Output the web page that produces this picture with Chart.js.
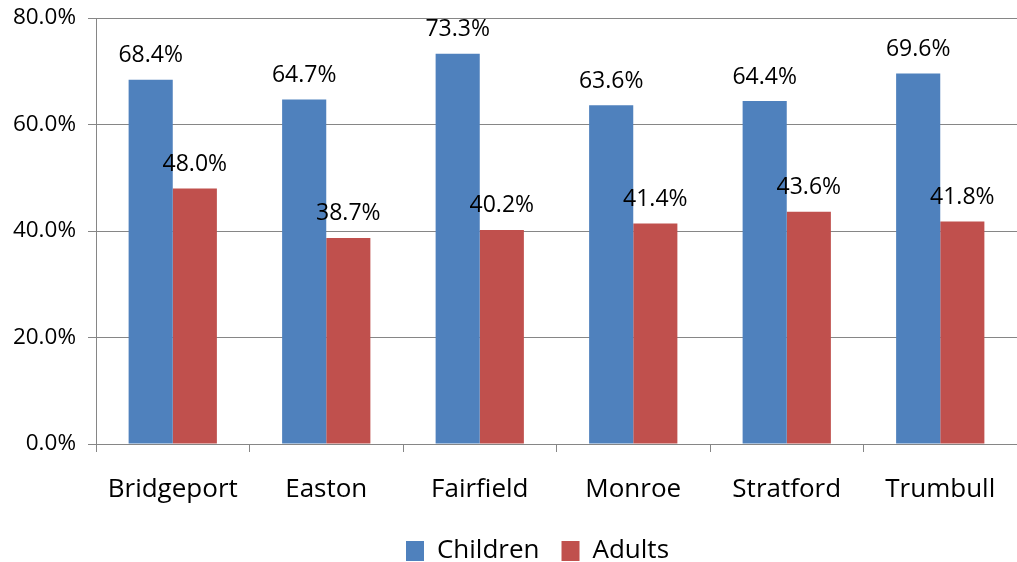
<!DOCTYPE html>
<html><head><meta charset="utf-8">
<script src="https://cdn.jsdelivr.net/npm/chart.js@4/dist/chart.umd.min.js"></script>
<style>html,body{margin:0;padding:0;background:#fff}#wrap{width:1017px;height:562px}</style>
</head><body><div id="wrap"><canvas id="c"></canvas></div>
<script>
const categories = ["Bridgeport","Easton","Fairfield","Monroe","Stratford","Trumbull"];
const children = [68.4, 64.7, 73.3, 63.6, 64.4, 69.6];
const adults = [48.0, 38.7, 40.2, 41.4, 43.6, 41.8];
const yTicks = [0, 20, 40, 60, 80];
const FONT = "'Open Sans', sans-serif";

const labelPlugin = {
  id: 'valueLabels',
  afterLayout(chart) {
    const lg = chart.legend;
    if (lg) { lg.top += 12; lg.bottom += 12; lg.left += 29; lg.right += 29; }
  },
  afterDatasetsDraw(chart) {
    const ctx = chart.ctx;
    ctx.save();
    ctx.font = "23px " + FONT;
    ctx.fillStyle = "#000";
    ctx.textAlign = "center";
    ctx.textBaseline = "middle";
    chart.data.datasets.forEach((ds, i) => {
      chart.getDatasetMeta(i).data.forEach((bar, j) => {
        ctx.fillText(ds.data[j].toFixed(1) + "%", bar.x, bar.y - 24);
      });
    });
    ctx.restore();
  }
};

new Chart(document.getElementById('c'), {
  type: 'bar',
  data: {
    labels: categories,
    datasets: [
      {label: "Children", data: children, backgroundColor: "#4F81BD", categoryPercentage: 0.575, barPercentage: 1},
      {label: "Adults", data: adults, backgroundColor: "#C0504D", categoryPercentage: 0.575, barPercentage: 1}
    ]
  },
  options: {
    responsive: true, maintainAspectRatio: false, animation: false,
    layout: {padding: {top: 18, right: 0, left: 0, bottom: 0}},
    plugins: {
      legend: {position: 'bottom', labels: {boxWidth: 18, boxHeight: 20, font: {size: 26, family: FONT}, color: "#000", padding: 22}},
      tooltip: {enabled: false}
    },
    scales: {
      x: {
        afterFit(s) { s.height = 60; s.paddingLeft = 0; s.paddingRight = 0; },
        grid: {offset: true, drawOnChartArea: false, color: "#868686", tickLength: 8, lineWidth: 1},
        border: {color: "#868686"},
        ticks: {font: {size: 26, family: FONT}, color: "#000", padding: 22}
      },
      y: {
        min: 0, max: 80,
        afterFit(s) { s.width = 96; s.paddingTop = 0; s.paddingBottom = 0; },
        afterBuildTicks(s) { s.ticks = yTicks.map(v => ({value: v})); },
        grid: {color: "#868686", tickLength: 8, lineWidth: 1},
        border: {color: "#868686"},
        ticks: {font: {size: 22.5, family: FONT}, color: "#000", padding: 12, callback: v => v.toFixed(1) + "%"}
      }
    }
  },
  plugins: [labelPlugin]
});
</script></body></html>
